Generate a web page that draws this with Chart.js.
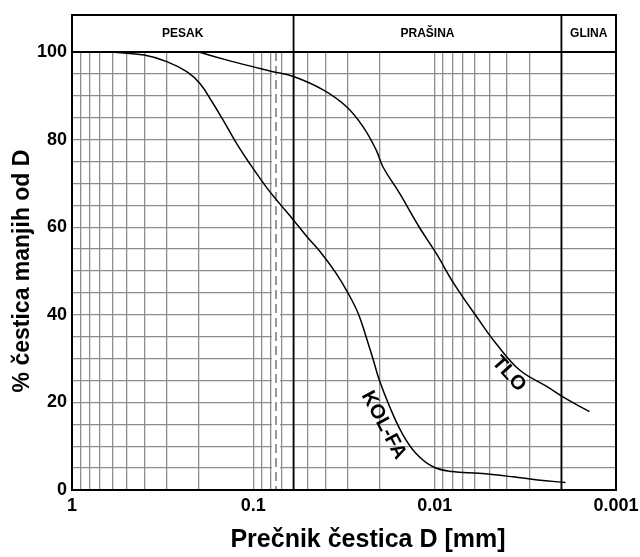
<!DOCTYPE html>
<html>
<head>
<meta charset="utf-8">
<script src="https://cdn.jsdelivr.net/npm/chart.js@4"></script>
<style>
  body { margin: 0; background: #fff; }
  #wrap { width: 640px; height: 557px; }
</style>
</head>
<body>
<div id="wrap"><canvas id="gran" width="640" height="557"></canvas></div>
<script>
// grain size (mm) and % passing
const kolD = [0.6, 0.4, 0.3, 0.233, 0.197, 0.167, 0.147, 0.124, 0.105, 0.085, 0.072, 0.06, 0.051, 0.043, 0.035, 0.030, 0.0264, 0.0239, 0.0218, 0.0202, 0.0177, 0.0151, 0.0127, 0.0102, 0.008, 0.0057, 0.0037, 0.0027, 0.0019];
const kolP = [100, 99.3, 97.8, 95.5, 92.8, 88.3, 84.5, 79.2, 74.6, 69.2, 65.5, 61.6, 58, 54.5, 49.5, 44.9, 40.3, 35, 29.7, 25.1, 19, 12.9, 8.4, 5.3, 4.2, 3.8, 3.0, 2.3, 1.7];
const tloD = [0.2, 0.141, 0.1, 0.078, 0.06, 0.041, 0.0306, 0.0248, 0.021, 0.0193, 0.0156, 0.0122, 0.0098, 0.0078, 0.0057, 0.0046, 0.0034, 0.0024, 0.0019, 0.0014];
const tloP = [100, 98.2, 96.6, 95.5, 94.4, 91.3, 87.5, 82.9, 77.6, 73.8, 67.7, 60.1, 54, 47, 38.8, 33.5, 27.4, 23.6, 20.9, 17.9];

const xGridValues = [1, 0.9, 0.8, 0.7, 0.6, 0.5, 0.4, 0.3, 0.2, 0.1, 0.09, 0.08, 0.07, 0.06, 0.05, 0.04, 0.03, 0.02, 0.01, 0.009, 0.008, 0.007, 0.006, 0.005, 0.004, 0.003, 0.002, 0.001];
const xLabelValues = [1, 0.1, 0.01, 0.001];
const yLabelValues = [0, 20, 40, 60, 80, 100];

const zones = ['PESAK', 'PRAŠINA', 'GLINA'];
const zoneLimits = [1, 0.06, 0.002, 0.001];
const sieveD = 0.075;

const xTitle = 'Prečnik čestica D [mm]';
const yTitle = '% čestica manjih od D';

const curveNames = ['KOL-FA', 'TLO'];
const nameD = [0.0191, 0.0039];
const nameP = [14.8, 26.5];
const nameAngle = [62, 48];

const FONT = '"Liberation Sans", Arial, sans-serif';
const toPts = (d, p) => d.map((v, i) => ({ x: v, y: p[i] }));

const overlay = {
  id: 'overlay',
  beforeDatasetsDraw(chart) {
    const { ctx, chartArea: a, scales: { x } } = chart;
    ctx.save();
    // sieve line 0.075 mm
    const xs = x.getPixelForValue(sieveD);
    ctx.fillStyle = '#fff';
    ctx.fillRect(xs - 4, a.top + 1, 8, a.bottom - a.top - 2);
    ctx.strokeStyle = '#999';
    ctx.lineWidth = 2;
    ctx.setLineDash([9, 5]);
    ctx.beginPath();
    ctx.moveTo(xs, a.top);
    ctx.lineTo(xs, a.bottom);
    ctx.stroke();
    ctx.restore();
  },
  afterDraw(chart) {
    const { ctx, chartArea: a, scales: { x, y } } = chart;
    const bandTop = 15;
    ctx.save();
    // zone band
    ctx.fillStyle = '#fff';
    ctx.fillRect(a.left, bandTop, a.right - a.left, a.top - bandTop);
    ctx.strokeStyle = '#000';
    ctx.lineWidth = 2;
    ctx.strokeRect(a.left, bandTop, a.right - a.left, a.bottom - bandTop);
    ctx.beginPath();
    ctx.moveTo(a.left, a.top);
    ctx.lineTo(a.right, a.top);
    ctx.stroke();
    ctx.lineWidth = 1.8;
    for (let i = 1; i < zoneLimits.length - 1; i++) {
      const px = x.getPixelForValue(zoneLimits[i]);
      ctx.beginPath();
      ctx.moveTo(px, bandTop);
      ctx.lineTo(px, a.bottom);
      ctx.stroke();
    }
    ctx.fillStyle = '#000';
    ctx.font = 'bold 12px ' + FONT;
    ctx.textAlign = 'center';
    ctx.textBaseline = 'middle';
    zones.forEach((z, i) => {
      const cx = (x.getPixelForValue(zoneLimits[i]) + x.getPixelForValue(zoneLimits[i + 1])) / 2;
      ctx.fillText(z, cx, (bandTop + a.top) / 2);
    });
    // axis title below x axis (sits right of centre in the original)
    ctx.font = 'bold 25px ' + FONT;
    ctx.fillText(xTitle, 368, 540);
    // curve names
    ctx.font = 'bold 20px ' + FONT;
    curveNames.forEach((n, i) => {
      ctx.save();
      ctx.translate(x.getPixelForValue(nameD[i]), y.getPixelForValue(nameP[i]));
      ctx.rotate(nameAngle[i] * Math.PI / 180);
      ctx.fillText(n, 0, 0);
      ctx.restore();
    });
    ctx.restore();
  }
};

new Chart(document.getElementById('gran').getContext('2d'), {
  type: 'line',
  data: {
    datasets: [
      { label: curveNames[0], data: toPts(kolD, kolP), borderColor: '#000', borderWidth: 1.5, pointRadius: 0, tension: 0.4, fill: false },
      { label: curveNames[1], data: toPts(tloD, tloP), borderColor: '#000', borderWidth: 1.5, pointRadius: 0, tension: 0.4, fill: false }
    ]
  },
  options: {
    responsive: false,
    animation: false,
    layout: { padding: { top: 52, right: 24, left: 0, bottom: 0 } },
    plugins: { legend: { display: false }, tooltip: { enabled: false } },
    scales: {
      x: {
        type: 'logarithmic',
        reverse: true,
        min: 0.001,
        max: 1,
        afterBuildTicks: s => { s.ticks = xGridValues.map(v => ({ value: v })); },
        afterFit: s => { s.height = 67; s.paddingLeft = 0; s.paddingRight = 0; },
        grid: { color: '#8c8c8c', lineWidth: 1.3, drawTicks: false },
        border: { display: false },
        ticks: {
          autoSkip: false,
          maxRotation: 0,
          padding: 5,
          color: '#000',
          font: { family: FONT, size: 18, weight: 'bold' },
          callback: v => xLabelValues.includes(v) ? String(v) : ''
        }
      },
      y: {
        min: 0,
        max: 100,
        afterFit: s => { s.width = 72; s.paddingTop = 0; s.paddingBottom = 0; },
        grid: { color: '#8c8c8c', lineWidth: 1.3, drawTicks: false },
        border: { display: false },
        ticks: {
          stepSize: 5,
          autoSkip: false,
          padding: 5,
          color: '#000',
          font: { family: FONT, size: 18, weight: 'bold' },
          callback: v => yLabelValues.includes(v) ? String(v) : ''
        },
        title: {
          display: true,
          text: yTitle,
          color: '#000',
          padding: { top: 9, bottom: 0 },
          font: { family: FONT, size: 23, weight: 'bold' }
        }
      }
    }
  },
  plugins: [overlay]
});
</script>
</body>
</html>
